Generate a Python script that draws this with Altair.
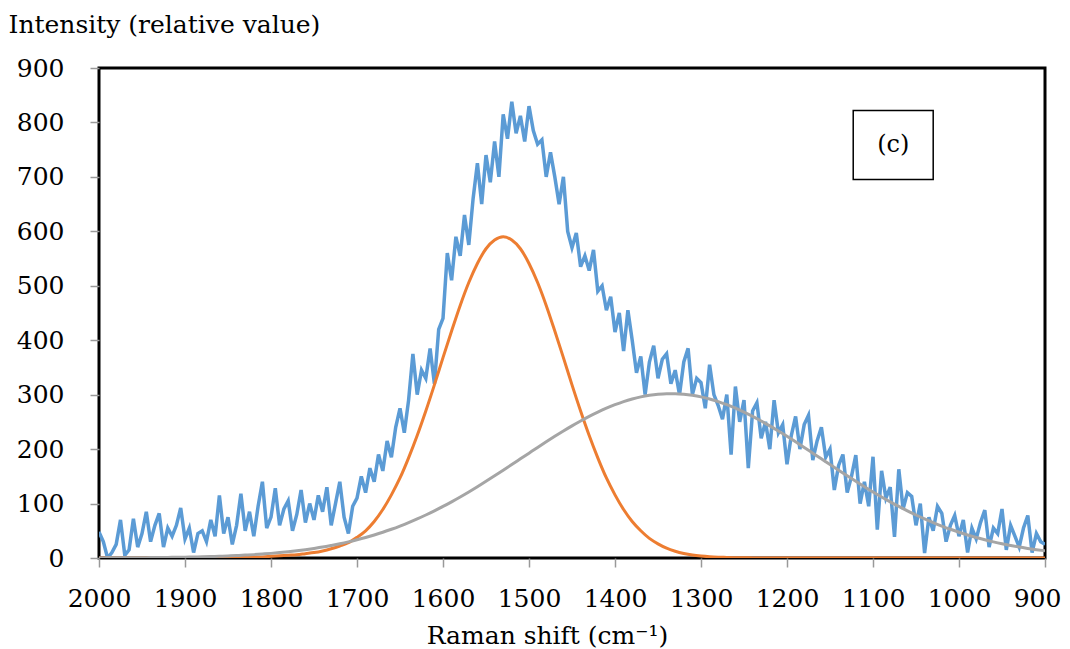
import altair as alt
import pandas as pd

# ---- data ----
blue_x = list(range(2000, 895, -5))
blue_y = [
    48, 30, 0, 10, 25, 70, 5, 15, 72, 20, 45, 85, 30, 60, 82, 20, 55, 40, 60, 92,
    35, 55, 10, 45, 50, 30, 70, 40, 115, 45, 75, 25, 60, 118, 50, 85, 40, 95, 140, 55,
    75, 128, 60, 90, 105, 50, 80, 125, 65, 100, 70, 115, 85, 130, 60, 100, 140, 75, 45, 95,
    110, 150, 120, 165, 140, 190, 160, 215, 185, 240, 275, 230, 290, 375, 300, 345, 330, 385, 320, 420,
    440, 560, 510, 590, 555, 630, 575, 660, 725, 650, 740, 690, 765, 700, 815, 770, 838, 780, 812, 765,
    830, 785, 760, 768, 700, 745, 700, 650, 700, 600, 570, 597, 535, 555, 528, 566, 490, 500, 455, 480,
    415, 450, 380, 455, 400, 340, 370, 300, 360, 390, 330, 365, 375, 320, 345, 300, 360, 385, 300, 330,
    322, 275, 355, 300, 280, 255, 300, 190, 315, 250, 290, 165, 270, 285, 220, 250, 200, 290, 230, 245,
    172, 225, 260, 200, 245, 262, 180, 215, 240, 185, 200, 125, 170, 190, 120, 150, 189, 100, 140, 95,
    186, 52, 160, 110, 130, 39, 163, 90, 120, 113, 60, 100, 9, 75, 50, 95, 82, 30, 60, 78,
    40, 70, 10, 55, 35, 65, 88, 20, 55, 45, 90, 15, 60, 40, 20, 55, 78, 10, 45, 30, 25,
]

fit_x = list(range(2000, 895, -10))
orange_y = [
    0, 0, 0, 0, 0, 0, 0, 0, 0, 0,
    0, 0, 0.1, 0.1, 0.2, 0.3, 0.5, 1, 1.5, 2,
    3, 4, 5, 6, 8, 10, 13, 17, 22, 28,
    38, 50, 67, 89, 116, 147, 184, 225, 270, 318,
    368, 417, 464, 506, 541, 568, 584, 590, 584, 568,
    541, 506, 464, 417, 368, 318, 270, 225, 184, 147,
    116, 89, 67, 50, 36, 26, 18, 12.5, 8.4, 5.5,
    3.6, 2.3, 1.5, 1, 0.6, 0.4, 0.2, 0.1, 0.1, 0.1,
    0, 0, 0, 0, 0, 0, 0, 0, 0, 0,
    0, 0, 0, 0, 0, 0, 0, 0, 0, 0,
    0, 0, 0, 0, 0, 0, 0, 0, 0, 0, 0,
]
gray_y = [
    0.2, 0.25, 0.3, 0.4, 0.5, 0.6, 0.7, 0.9, 1.1, 1.3,
    1.6, 1.9, 2.2, 2.7, 3.2, 3.8, 4.5, 5.3, 6.2, 7.3,
    8.5, 9.9, 11.5, 13.3, 15.3, 17.6, 20.1, 23.0, 26.1, 29.6,
    33.5, 37.7, 42.3, 47.3, 52.8, 58.7, 65.0, 71.8, 79.0, 86.6,
    94.7, 103.2, 112.1, 121.3, 130.9, 140.8, 150.9, 161.2, 171.6, 182.1,
    192.6, 203.1, 213.4, 223.5, 233.3, 242.7, 251.7, 260.2, 268.0, 275.2,
    281.6, 287.3, 292.1, 296.0, 298.9, 300.9, 301.9, 301.9, 300.9, 298.9,
    296.0, 292.1, 287.3, 281.6, 275.2, 268.0, 260.2, 251.7, 242.7, 233.3,
    223.5, 213.4, 203.1, 192.6, 182.1, 171.6, 161.2, 150.9, 140.8, 130.9,
    121.3, 112.1, 103.2, 94.7, 86.6, 79.0, 71.8, 65.0, 58.7, 52.8,
    47.3, 42.3, 37.7, 33.5, 29.6, 26.1, 23.0, 20.1, 17.6, 15.3,
    13.3,
]
x_ticks = [2000, 1900, 1800, 1700, 1600, 1500, 1400, 1300, 1200, 1100, 1000, 900]
y_ticks = [0, 100, 200, 300, 400, 500, 600, 700, 800, 900]

label_text = ["(c)"]
label_box_x = [1123]
label_box_x2 = [1030]
label_box_y = [822]
label_box_y2 = [695]
label_x = [1076.5]
label_y = [758]

FONT = "DejaVu Serif"

blue_df = pd.DataFrame({"x": blue_x, "y": blue_y})
orange_df = pd.DataFrame({"x": fit_x, "y": orange_y})
gray_df = pd.DataFrame({"x": fit_x, "y": gray_y})
box_df = pd.DataFrame({"x": label_box_x, "x2": label_box_x2, "y": label_box_y, "y2": label_box_y2})
text_df = pd.DataFrame({"x": label_x, "y": label_y, "t": label_text})

xscale = alt.Scale(domain=[900, 2000], reverse=True, nice=False, zero=False)
yscale = alt.Scale(domain=[0, 900], nice=False)

xaxis = alt.Axis(
    values=x_ticks, format="d", title="Raman shift (cm⁻¹)", grid=False, domain=False,
    tickColor="#999999", tickSize=9, tickWidth=1.5, labelPadding=19, labelFlush=False,
    labelOffset={"expr": "datum.value == 900 ? -8 : 0"},
    labelFont=FONT, labelFontSize=25, labelColor="black",
    titleFont=FONT, titleFontSize=25, titleFontWeight="normal", titleColor="black",
    titleX=448, titleY=85, titleBaseline="alphabetic", titleAlign="center",
)
yaxis = alt.Axis(
    values=y_ticks, format="d", title="Intensity (relative value)", grid=False, domain=False,
    tickColor="#999999", tickSize=9, tickWidth=1.5, labelPadding=26,
    labelFont=FONT, labelFontSize=25, labelColor="black",
    titleFont=FONT, titleFontSize=25, titleFontWeight="normal", titleColor="black",
    titleAngle=0, titleAlign="left", titleX=-91, titleY=-36, titleBaseline="alphabetic",
)

blue = alt.Chart(blue_df).mark_line(color="#5B9BD5", strokeWidth=3.5, clip=True).encode(
    x=alt.X("x:Q", scale=xscale, axis=xaxis),
    y=alt.Y("y:Q", scale=yscale, axis=yaxis),
)
orange = alt.Chart(orange_df).mark_line(color="#ED7D31", strokeWidth=3, clip=True, interpolate="monotone").encode(
    x=alt.X("x:Q", scale=xscale),
    y=alt.Y("y:Q", scale=yscale),
)
gray = alt.Chart(gray_df).mark_line(color="#A5A5A5", strokeWidth=3, clip=True, interpolate="monotone").encode(
    x=alt.X("x:Q", scale=xscale),
    y=alt.Y("y:Q", scale=yscale),
)
box = alt.Chart(box_df).mark_rect(fill="white", stroke="black", strokeWidth=1.5).encode(
    x="x:Q", x2="x2:Q", y="y:Q", y2="y2:Q",
)
text = alt.Chart(text_df).mark_text(font=FONT, fontSize=24, color="black", align="center", baseline="middle").encode(
    x="x:Q", y="y:Q", text="t:N",
)

chart = alt.layer(blue, orange, gray, box, text).properties(
    width=946, height=490,
    autosize=alt.AutoSizeParams(type="none"),
    padding={"left": 91, "top": 60, "right": 17, "bottom": 91},
).configure(background="white").configure_view(stroke="black", strokeWidth=3)

chart.save("out.html", embed_options={"renderer": "svg", "actions": False})
